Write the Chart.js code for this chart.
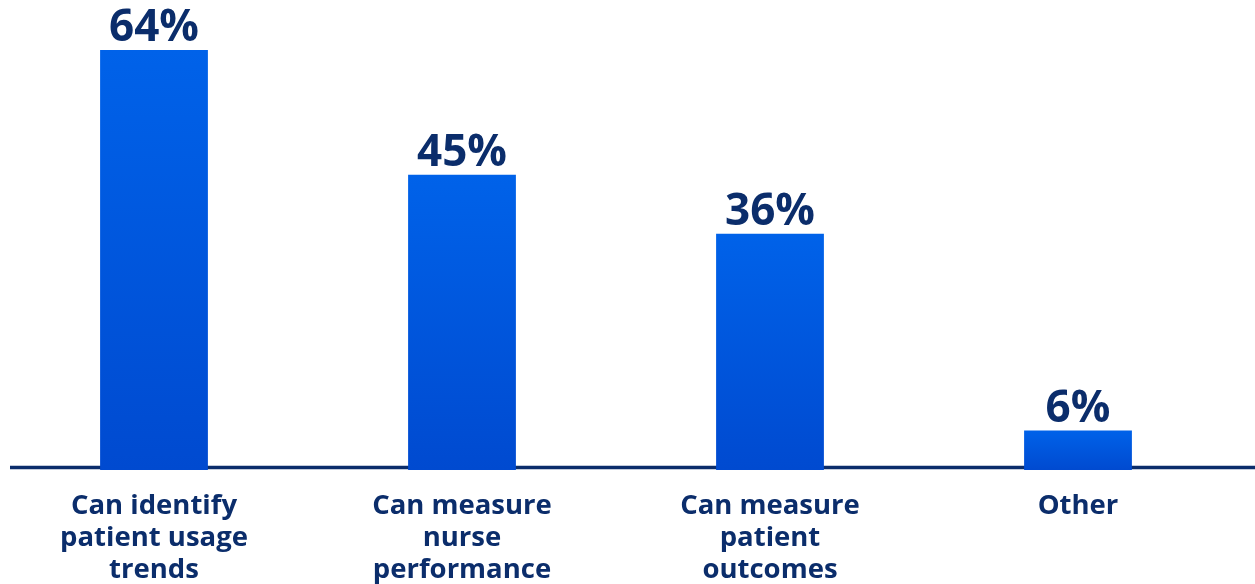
<!DOCTYPE html>
<html>
<head>
<meta charset="utf-8">
<script src="https://cdn.jsdelivr.net/npm/chart.js@4.4.1/dist/chart.umd.min.js"></script>
<style>
  html, body { margin: 0; padding: 0; background: #ffffff; overflow: hidden; }
  #frame { width: 1255px; height: 584px; overflow: hidden; }
  #wrap { position: relative; width: 1255px; height: 606px; }
</style>
</head>
<body>
<div id="frame"><div id="wrap"><canvas id="chart"></canvas></div></div>
<script>
// Survey answers and their shares (%)
const categories = [
  ['Can identify', 'patient usage', 'trends'],
  ['Can measure', 'nurse', 'performance'],
  ['Can measure', 'patient', 'outcomes'],
  ['Other']
];
const shares = [64, 45, 36, 6];
const valueLabels = ['64%', '45%', '36%', '6%'];

const NAVY = '#0b2d6b';
const FONT = '"Open Sans", "Noto Sans", sans-serif';

// Vertical gradient per bar, brighter at the top
function barFill(ctx) {
  const chart = ctx.chart;
  const { chartArea } = chart;
  if (!chartArea || ctx.type !== 'data') return '#0058dc';
  const y = chart.scales.y;
  const top = y.getPixelForValue(ctx.parsed.y);
  const bottom = y.getPixelForValue(0);
  const g = chart.ctx.createLinearGradient(0, top, 0, bottom);
  g.addColorStop(0, '#0062e9');
  g.addColorStop(1, '#004ad0');
  return g;
}

// Baseline rule spanning the full width under the bars
const baseline = {
  id: 'baseline',
  beforeDatasetsDraw(chart) {
    const { ctx, chartArea } = chart;
    ctx.save();
    ctx.strokeStyle = NAVY;
    ctx.lineWidth = 3.5;
    ctx.beginPath();
    ctx.moveTo(10, chartArea.bottom - 2.5);
    ctx.lineTo(chart.width, chartArea.bottom - 2.5);
    ctx.stroke();
    ctx.restore();
  }
};

// Percentage above each bar
const topLabels = {
  id: 'topLabels',
  afterDatasetsDraw(chart) {
    const { ctx } = chart;
    const meta = chart.getDatasetMeta(0);
    ctx.save();
    ctx.fillStyle = NAVY;
    ctx.font = 'bold 44px ' + FONT;
    ctx.textAlign = 'center';
    ctx.textBaseline = 'alphabetic';
    meta.data.forEach((bar, i) => {
      ctx.fillText(valueLabels[i], bar.x, bar.y - 9);
    });
    ctx.restore();
  }
};

new Chart(document.getElementById('chart'), {
  type: 'bar',
  data: {
    labels: categories,
    datasets: [{
      data: shares,
      backgroundColor: barFill,
      borderWidth: 0,
      categoryPercentage: 1,
      barPercentage: 0.35
    }]
  },
  options: {
    responsive: true,
    maintainAspectRatio: false,
    animation: false,
    layout: { padding: { top: 50, left: 0, right: 23, bottom: 0 } },
    plugins: { legend: { display: false }, tooltip: { enabled: false } },
    scales: {
      x: {
        grid: { display: false, drawTicks: false },
        border: { display: false },
        ticks: {
          color: NAVY,
          padding: 20,
          maxRotation: 0,
          autoSkip: false,
          font: { family: FONT, weight: 'bold', size: 27.5, lineHeight: 1.165 }
        }
      },
      y: {
        display: false,
        min: 0,
        max: 64
      }
    }
  },
  plugins: [baseline, topLabels]
});
</script>
</body>
</html>
